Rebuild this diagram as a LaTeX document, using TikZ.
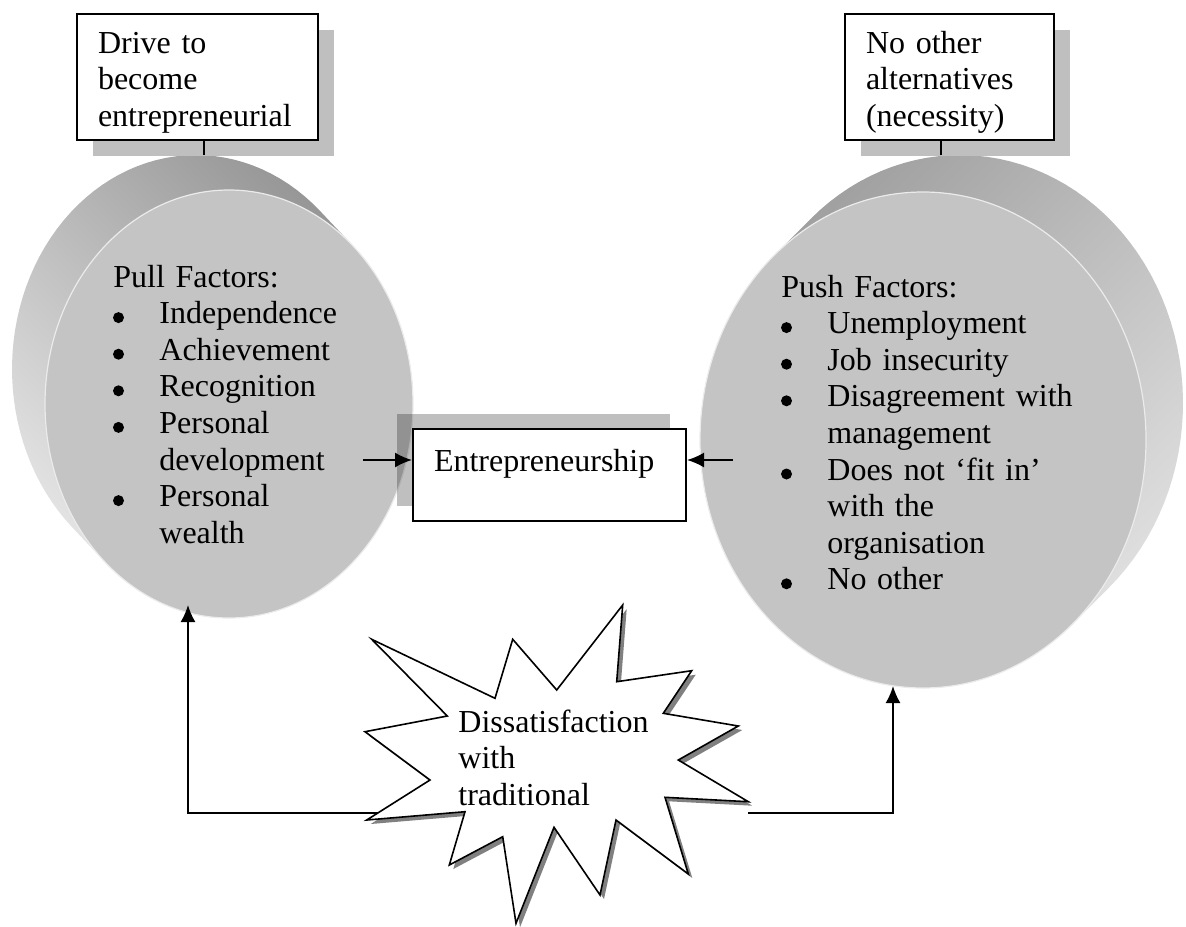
\documentclass[tikz,border=0pt]{standalone}
\usepackage{fontspec}
\setmainfont{Liberation Serif}
\usetikzlibrary{calc,shapes.geometric,shadows,arrows.meta}
\definecolor{discgray}{RGB}{196,196,196}
\definecolor{shadowgray}{RGB}{191,191,191}
\tikzset{
  txt/.style={font=\fontsize{16}{18.3}\selectfont},
  textbox/.style={
    txt,
    draw=black,
    line width=1pt,
    fill=white,
    anchor=north west,
    inner sep=0pt,
    inner xsep=10.5pt,
    align=left
  },
  textbox-shadow/.style={
    textbox,
    drop shadow={shadow xshift=8pt, shadow yshift=-8pt, fill=shadowgray, opacity=1}
  },
  textbox-back/.style={
    textbox,
    drop shadow={shadow xshift=-8pt, shadow yshift=7.5pt, fill=black, opacity=0.25}
  },
  list/.style={txt, anchor=base west, align=left, inner sep=0pt},
  disc-face/.style={ellipse, fill=discgray, draw=black!8, line width=0.6pt, inner sep=0pt},
  burst/.style={draw=black, line width=0.8pt, fill=white, line join=miter},
  burst-shadow/.style={fill=black!50},
  link/.style={line width=0.9pt},
  arrow/.style={link, -{Latex[length=8.5pt,width=7.5pt]}}
}
\newcommand{\ind}{\hspace*{23pt}}
\newcommand{\burstpath}{(371.7,639.3) -- (495,698.3) -- (512.7,639.3) -- (556.7,690)
  -- (622.7,605) -- (616.7,681.7) -- (691.7,670.7) -- (663.3,713.3) -- (738.3,726)
  -- (678.3,760) -- (748.3,801.7) -- (665,797.3) -- (688.3,874) -- (616,820)
  -- (600,895) -- (554,827.3) -- (516,923.3) -- (502.7,836.7) -- (449.3,865)
  -- (465,811.7) -- (366.7,820) -- (430,780) -- (365,731.7) -- (447.3,716) -- cycle}

\begin{document}
\begin{tikzpicture}[x=0.5pt,y=-0.5pt]
  \useasboundingbox (0,0) rectangle (1186,926);

  % Pull disc
  \shade[top color=black!42, bottom color=black!10, shading angle=-45]
    plot[domain=-47.6:132.4, samples=60] ({229+184*cos(\x)},{404+214*sin(\x)})
    -- plot[domain=132.4:312.4, samples=60] ({196+184*cos(\x)},{369+214*sin(\x)}) -- cycle;
  \node[disc-face, minimum width=184pt, minimum height=214pt] (pull) at (229,404) {};

  % Push disc
  \shade[top color=black!38, bottom color=black!12, shading angle=45]
    plot[domain=48:228, samples=60] ({923+223*cos(\x)},{440+248*sin(\x)})
    -- plot[domain=228:408, samples=60] ({960+223*cos(\x)},{403+248*sin(\x)}) -- cycle;
  \node[disc-face, minimum width=223pt, minimum height=248pt] (push) at (923,440) {};

  \node[list, text width=140pt] (pulltext) at (113,287) {Pull Factors:\\
    \ind Independence\\
    \ind Achievement\\
    \ind Recognition\\
    \ind Personal\\
    \ind development\\
    \ind Personal\\
    \ind wealth};
  \node[list, text width=160pt] (pushtext) at (781,297) {Push Factors:\\
    \ind Unemployment\\
    \ind Job insecurity\\
    \ind Disagreement with\\
    \ind management\\
    \ind Does not `fit in'\\
    \ind with the\\
    \ind organisation\\
    \ind No other};

  % Bullets
  \foreach \k in {1,2,3,4,6}
    \fill ($(pulltext.base west)+(5.5,36.6*\k-6)$) circle (5.5);
  \foreach \k in {1,2,3,5,8}
    \fill ($(pushtext.base west)+(5.5,36.6*\k-6)$) circle (5.5);

  % Boxes
  \node[textbox-shadow, text width=99.5pt, text height=19.5pt, text depth=43.5pt]
    (drive) at (76,13) {Drive to\\become\\entrepreneurial};
  \node[textbox-shadow, text width=83.5pt, text height=19.5pt, text depth=43.5pt]
    (necessity) at (844,13) {No other\\alternatives\\(necessity)};
  \node[textbox-back, text width=115.5pt, text height=21pt, text depth=25pt]
    (entre) at (412,428) {Entrepreneurship};

  \coordinate (pulltop) at (204,155);
  \coordinate (pushtop) at (941,155);
  \draw[link] (drive.south -| pulltop) -- (pulltop);
  \draw[link] (necessity.south -| pushtop) -- (pushtop);

  % Arrows into entrepreneurship
  \coordinate (pullout) at (363,460);
  \coordinate (pushout) at (733,460);
  \draw[arrow] (pullout) -- (pullout -| entre.west);
  \draw[arrow] (pushout) -- (pushout -| entre.east);

  % Feedback from the burst
  \coordinate (burstL) at (380,813);
  \coordinate (burstR) at (748,813);
  \coordinate (pullbot) at (188,605);
  \coordinate (pushbot) at (893,686);
  \draw[arrow] (burstL) -| (pullbot);
  \draw[arrow] (burstR) -| (pushbot);

  % Burst
  \fill[burst-shadow, shift={(4,4)}] \burstpath;
  \filldraw[burst] \burstpath;
  \node[list, text width=120pt] (dissat) at (458,732) {Dissatisfaction\\with\\traditional};
\end{tikzpicture}
\end{document}
